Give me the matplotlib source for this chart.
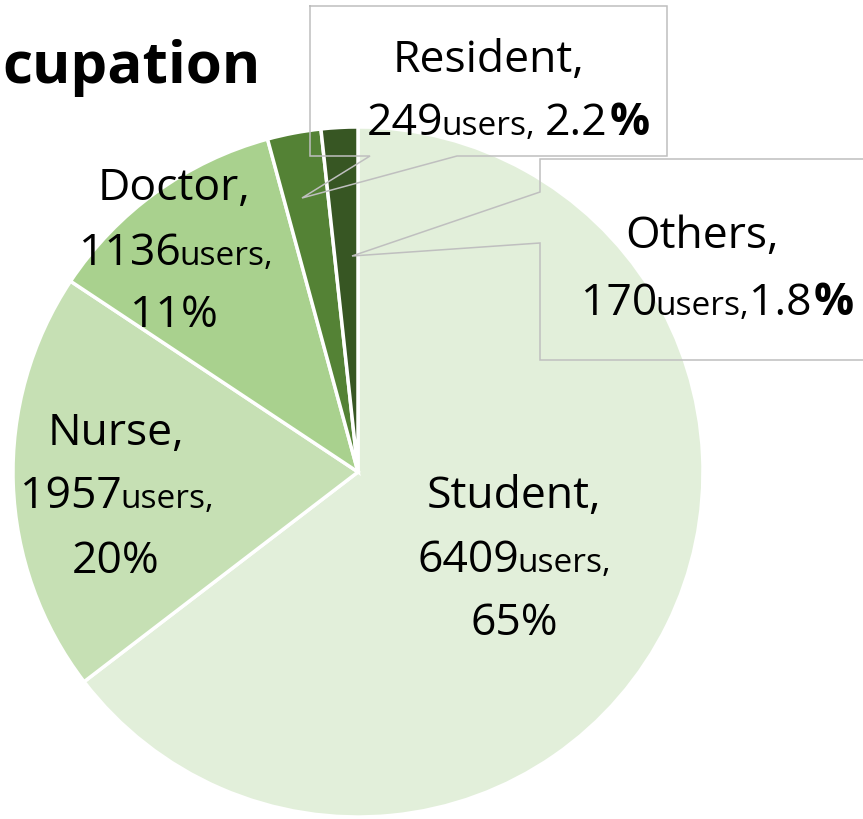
"""
Pie chart of users by occupation, with callout boxes for the two small slices.
Saves out.png (863x820 px).
"""

import matplotlib
matplotlib.use("Agg")
import matplotlib.pyplot as plt

# Data
labels = ["Student", "Nurse", "Doctor", "Resident", "Others"]
users = [6409, 1957, 1136, 249, 170]
pct_labels = ["65%", "20%", "11%", "2.2%", "1.8%"]
colors = ["#E2EFDA", "#C6E0B4", "#A9D18E", "#548235", "#375623"]
title = "cupation"

W, H = 863, 820
FONT = ["Open Sans", "DejaVu Sans"]
BIG = 32
SMALL = 24
LINE_COLOR = "#BFBFBF"

# Label line positions (x centre, baseline y) in pixels from the top-left
label_pos = {
    "Student": [(514, 508), (514, 572), (514, 635)],
    "Nurse": [(116, 445), (117, 508), (116, 573)],
    "Doctor": [(174, 200), (176, 265), (174, 327)],
    "Resident": [(488, 72), (508, 135)],
    "Others": [(702, 248), (717, 315)],
}


def Y(y):
    # convert from top-down pixel rows to axis coordinates
    return H - y


fig = plt.figure(figsize=(W / 100, H / 100), dpi=100)
ax = fig.add_axes([0, 0, 1, 1])

ax.pie(
    users,
    colors=colors,
    startangle=90,
    counterclock=False,
    center=(358, Y(473)),
    radius=345,
    wedgeprops=dict(edgecolor="white", linewidth=2.5),
)
ax.set_xlim(0, W)
ax.set_ylim(0, H)
ax.set_aspect("auto")
ax.axis("off")

renderer = fig.canvas.get_renderer()


def draw_line(xc, yb, parts):
    """Draws one line made of pieces with different sizes, centred on xc."""
    items = []
    total = 0
    for s, size, weight, gap in parts:
        t = ax.text(0, Y(yb), s, fontsize=size, fontweight=weight,
                    family=FONT, ha="left", va="baseline", color="black")
        w = t.get_window_extent(renderer).width
        items.append((t, w, gap))
        total += w + gap
    x = xc - total / 2
    for t, w, gap in items:
        x += gap
        t.set_x(x)
        x += w


# Labels
for i, name in enumerate(labels):
    pos = label_pos[name]
    count_parts = [(str(users[i]), BIG, "normal", 0), ("users,", SMALL, "normal", -2)]
    if len(pos) == 3:
        draw_line(*pos[0], [(name + ",", BIG, "normal", 0)])
        draw_line(*pos[1], count_parts)
        draw_line(*pos[2], [(pct_labels[i], BIG, "normal", 0)])
    else:
        num = pct_labels[i].rstrip("%")
        gap = 10 if name == "Resident" else 0
        draw_line(*pos[0], [(name + ",", BIG, "normal", 0)])
        draw_line(*pos[1], count_parts + [(num, BIG, "normal", gap),
                                          ("%", BIG, "bold", 2)])

# Callout boxes for the small slices
resident_box = [(310, 7), (667, 7), (667, 157), (457, 157), (302, 199),
                (370, 157), (310, 157), (310, 7)]
others_box = [(880, 160), (540, 160), (540, 193), (352, 257), (540, 244),
              (540, 361), (880, 361)]
for box in (resident_box, others_box):
    ax.plot([p[0] for p in box], [Y(p[1]) for p in box],
            color=LINE_COLOR, linewidth=1.1, solid_joinstyle="miter")

# Title (only the visible end of the word shows in the reference)
ax.text(2, Y(83), title, fontsize=42, fontweight="bold", family=FONT,
        ha="left", va="baseline", color="black")

fig.savefig("out.png", dpi=100)
